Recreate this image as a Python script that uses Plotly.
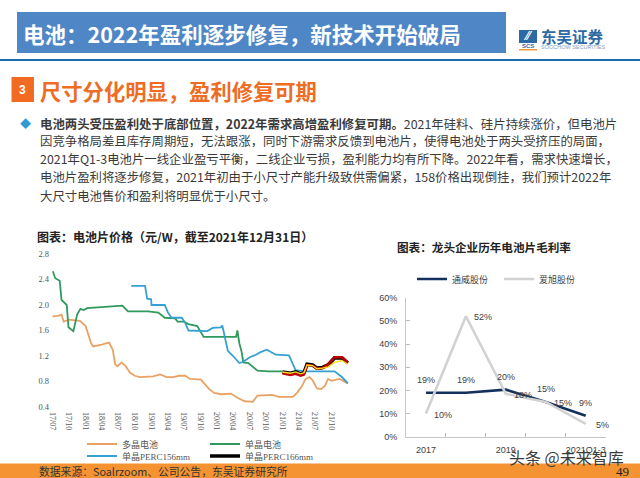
import plotly.graph_objects as go

CJK = "Noto Sans CJK SC"
SERIF = "Liberation Serif, Noto Sans CJK SC"
SANS = "Liberation Sans, Noto Sans CJK SC"

# left chart: cell prices, yuan/W
poly_dates = ["2017-07-01", "2017-08-01", "2017-08-20", "2017-09-01", "2017-10-01", "2017-12-01", "2018-01-01",
              "2018-01-10", "2018-02-01", "2018-02-12", "2018-03-05", "2018-04-01", "2018-05-12", "2018-06-01",
              "2018-06-15", "2018-06-28", "2018-07-20", "2018-08-10", "2018-09-05", "2018-10-01", "2018-11-01",
              "2019-01-12", "2019-02-20", "2019-03-28", "2019-05-05", "2019-06-05", "2019-07-10", "2019-08-05",
              "2019-10-05", "2019-11-01", "2019-11-20", "2019-12-18", "2020-01-25", "2020-03-20", "2020-04-28",
              "2020-06-05", "2020-07-20", "2020-08-15", "2020-11-05", "2020-12-12", "2021-02-28", "2021-03-25",
              "2021-04-18", "2021-05-10", "2021-06-01", "2021-06-18", "2021-07-12", "2021-08-05", "2021-08-25",
              "2021-09-12", "2021-10-01", "2021-11-15", "2021-12-31"]
poly_price = [1.82, 1.83, 1.85, 1.74, 1.77, 1.75, 1.67, 1.6, 1.4, 1.35, 1.36, 1.38, 1.41, 1.3, 1.07, 1.04, 1.1,
              1.05, 0.94, 0.89, 0.87, 0.88, 0.91, 0.87, 0.87, 0.89, 0.89, 0.84, 0.83, 0.75, 0.68, 0.62, 0.6, 0.61,
              0.54, 0.49, 0.48, 0.58, 0.59, 0.56, 0.56, 0.63, 0.72, 0.84, 0.87, 0.82, 0.69, 0.68, 0.73, 0.84, 0.81,
              0.84, 0.77]

mono_dates = ["2017-07-03", "2017-07-16", "2017-08-10", "2017-08-20", "2017-09-18", "2017-09-28", "2017-10-25",
              "2017-11-15", "2017-12-03", "2017-12-21", "2018-01-10", "2018-02-28", "2018-04-20", "2018-06-01",
              "2018-07-25", "2018-08-25", "2018-11-28", "2018-12-15", "2019-02-10", "2019-03-18", "2019-05-15",
              "2019-05-28", "2019-07-01", "2019-07-28", "2019-09-15", "2019-10-20", "2020-04-18", "2020-04-25",
              "2020-05-06", "2020-05-20", "2020-05-28", "2020-06-25", "2020-08-15", "2020-10-15", "2021-01-01"]
mono_price = [2.53, 2.42, 2.38, 2.08, 2.0, 1.65, 1.59, 1.85, 1.94, 1.92, 1.95, 1.96, 1.96, 1.98, 1.99, 1.9, 1.89,
              1.9, 1.88, 1.8, 1.79, 1.74, 1.74, 1.7, 1.67, 1.5, 1.5, 1.6, 1.4, 1.25, 1.1, 1.09, 0.97, 0.96, 0.96]

perc156_dates = ["2018-09-12", "2018-11-28", "2018-12-10", "2019-01-01", "2019-01-03", "2019-03-18", "2019-04-05",
                 "2019-04-25", "2019-06-20", "2019-07-10", "2019-07-28", "2019-11-10", "2019-12-10", "2020-01-25",
                 "2020-02-01", "2020-02-14", "2020-03-03", "2020-04-01", "2020-05-06", "2020-05-28", "2020-07-03",
                 "2020-08-06", "2020-09-01", "2020-10-06", "2020-11-25", "2021-02-06", "2021-03-15", "2021-05-10",
                 "2021-10-18", "2021-11-28", "2021-12-31"]
perc156_price = [2.3, 2.3, 2.1, 2.09, 2.0, 2.0, 1.88, 1.8, 1.8, 1.72, 1.6, 1.59, 1.64, 1.65, 1.68, 1.5, 1.28, 1.2,
                 1.09, 1.11, 1.18, 1.22, 1.26, 1.3, 1.22, 1.21, 0.98, 0.96, 0.96, 0.87, 0.77]

perc166_dates = ["2021-01-01", "2021-01-28", "2021-02-15", "2021-03-15", "2021-04-12", "2021-05-01", "2021-05-18",
                 "2021-06-18", "2021-07-12", "2021-08-12", "2021-09-12", "2021-10-18", "2021-11-28", "2021-12-31"]
perc166_price = [0.95, 0.94, 0.93, 0.95, 0.92, 0.94, 1.07, 1.06, 1.01, 1.02, 1.06, 1.17, 1.17, 1.09]
red_price = [0.93, 0.91, 0.90, 0.92, 0.89, 0.91, 1.06, 1.05, 1.0, 1.01, 1.07, 1.18, 1.18, 1.1]
yellow_price = [0.95, 0.94, 0.93, 0.95, 0.92, 0.94, 1.06, 1.05, 1.0, 1.01, 1.03, 1.1, 1.13, 1.07]

price_ticks = ["2017-07-01", "2017-10-01", "2018-01-01", "2018-04-01", "2018-07-01", "2018-10-01",
               "2019-01-01", "2019-04-01", "2019-07-01", "2019-10-01", "2020-01-01", "2020-04-01",
               "2020-07-01", "2020-10-01", "2021-01-01", "2021-04-01", "2021-07-01", "2021-10-01"]
price_labels = ["17/07", "17/10", "18/01", "18/04", "18/07", "18/10", "19/01", "19/04", "19/07", "19/10",
                "20/01", "20/04", "20/07", "20/10", "21/01", "21/04", "21/07", "21/10"]

# right chart: gross margin, %
years = ["2017", "2018", "2019", "2020", "2021Q1-3"]
year_labels = ["2017", "", "2019", "", "2021Q1-3"]
tongwei = [19, 19, 20.3, 15, 9]
aixu = [10, 52, 18.5, 15, 5.5]
tongwei_labels = ["19%", "19%", "20%", "15%", "9%"]
aixu_labels = ["10%", "52%", "18%", "15%", "5%"]

body_lines = [
    "<b>电池两头受压盈利处于底部位置，2022年需求高增盈利修复可期。</b>2021年硅料、硅片持续涨价，但电池片",
    "因竞争格局差且库存周期短，无法跟涨，同时下游需求反馈到电池片，使得电池处于两头受挤压的局面，",
    "2021年Q1-3电池片一线企业盈亏平衡，二线企业亏损，盈利能力均有所下降。2022年看，需求快速增长，",
    "电池片盈利将逐步修复，2021年初由于小尺寸产能升级致供需偏紧，158价格出现倒挂，我们预计2022年",
    "大尺寸电池售价和盈利将明显优于小尺寸。",
]
body_y = [124, 141, 159, 177, 196]

W, H = 640, 478


def px(x, y, text, size, color="#333333", family=CJK, anchor="left"):
    # annotation placed in page pixels
    return dict(x=x / W, y=1 - y / H, xref="paper", yref="paper", text=text, showarrow=False,
                xshift=-2 if anchor == "left" else 0,
                xanchor=anchor, yanchor="middle", font=dict(size=size, color=color, family=family))


def box(x0, y0, x1, y1, color):
    return dict(type="rect", xref="paper", yref="paper", x0=x0 / W, x1=x1 / W, y0=1 - y0 / H, y1=1 - y1 / H,
                fillcolor=color, line=dict(width=0), layer="below")


fig = go.Figure()
fig.add_trace(go.Scatter(x=poly_dates, y=poly_price, mode="lines", name="多晶电池", legend="legend",
                         line=dict(color="#e9a263", width=1.8)))
fig.add_trace(go.Scatter(x=mono_dates, y=mono_price, mode="lines", name="单晶电池", legend="legend2",
                         line=dict(color="#2f9a5c", width=1.8)))
fig.add_trace(go.Scatter(x=perc156_dates, y=perc156_price, mode="lines", name="单晶PERC156mm", legend="legend3",
                         line=dict(color="#35a0d2", width=1.8)))
fig.add_trace(go.Scatter(x=perc166_dates, y=perc166_price, mode="lines", name="单晶PERC166mm", legend="legend4",
                         line=dict(color="#000000", width=3.6)))
fig.add_trace(go.Scatter(x=perc166_dates, y=red_price, mode="lines", showlegend=False,
                         line=dict(color="#c00000", width=2.4)))
fig.add_trace(go.Scatter(x=perc166_dates, y=yellow_price, mode="lines", showlegend=False,
                         line=dict(color="#ffd91a", width=1.4)))

fig.add_trace(go.Scatter(x=years, y=tongwei, mode="lines", name="通威股份", xaxis="x2", yaxis="y2", legend="legend5",
                         line=dict(color="#14315e", width=2.6)))
fig.add_trace(go.Scatter(x=years, y=aixu, mode="lines", name="爱旭股份", xaxis="x2", yaxis="y2", legend="legend5",
                         line=dict(color="#d2d2d2", width=2.6)))

notes = [
    px(23, 33, "<b>电池：2022年盈利逐步修复，新技术开始破局</b>", 21.5, "#ffffff"),
    px(541, 36, "<b>东吴证券</b>", 15.5, "#2c6aa6"),
    px(541, 47, "SOOCHOW SECURITIES", 5.5, "#8aa3bd", SANS),
    px(528, 46, "<b>SCS</b>", 6, "#2c6aa6", SANS, "center"),
    px(528, 36, "<b>⁄⁄</b>", 12, "#ffffff", SANS, "center"),
    px(22.7, 90, "<b>3</b>", 12, "#ffffff", SANS, "center"),
    px(39.5, 91, "<b>尺寸分化明显，盈利修复可期</b>", 21.3, "#ee6c23"),
    px(25, 123, "◆", 11, "#2e9bd6", CJK, "center"),
    px(37, 236.7, "<b>图表：电池片价格（元/W，截至2021年12月31日）</b>", 12, "#222222"),
    px(396.5, 246.7, "<b>图表：龙头企业历年电池片毛利率</b>", 11.6, "#222222"),
    px(39, 471, "数据来源：Soalrzoom、公司公告，东吴证券研究所", 10.8, "#333333"),
    px(622, 471, "49", 13, "#222222", "Liberation Serif", "center"),
]
for line, y in zip(body_lines, body_y):
    notes.append(px(39.5, y, line, 12.4, "#3a3a3a"))

# category axis: numeric-looking years are placed by index
for i, (value, label) in enumerate(zip(tongwei, tongwei_labels)):
    notes.append(dict(x=i, y=value, xref="x2", yref="y2", text=label, showarrow=False, yshift=13,
                      font=dict(size=9, color="#404040", family=SANS)))
for i, (value, label) in enumerate(zip(aixu, aixu_labels)):
    notes.append(dict(x=i, y=value, xref="x2", yref="y2", text=label, showarrow=False, xshift=17, yshift=-1,
                      font=dict(size=9, color="#404040", family=SANS)))
notes.append(px(509, 457, "头条 @未来智库", 16, "#3c3c3c"))

legend_font = dict(size=9, color="#555555", family=SERIF)
legend_base = dict(xanchor="left", yanchor="middle", bgcolor="rgba(0,0,0,0)", font=legend_font, itemwidth=30)

fig.update_layout(
    width=W,
    height=H,
    margin=dict(l=0, r=0, t=0, b=0, autoexpand=False),
    paper_bgcolor="#ffffff",
    plot_bgcolor="#ffffff",
    xaxis=dict(domain=[50 / W, 350 / W], anchor="y", type="date", range=["2017-06-17", "2022-01-12"],
               tickmode="array", tickvals=price_ticks, ticktext=price_labels, tickangle=90,
               showgrid=False, zeroline=False, showline=False, ticks="", ticklabelstandoff=4,
               tickfont=dict(size=8, color="#555555", family="Liberation Serif")),
    yaxis=dict(domain=[1 - 407 / H, 1 - 254 / H], anchor="x", range=[0.4, 2.8], dtick=0.4, tickformat=".1f",
               showgrid=False, zeroline=False, showline=False, ticks="",
               tickfont=dict(size=8.5, color="#555555", family="Liberation Serif")),
    xaxis2=dict(domain=[406 / W, 605.7 / W], anchor="y2", type="category", range=[-0.5, 4.5],
                tickmode="array", tickvals=years, ticktext=year_labels, tickson="boundaries", ticks="inside",
                ticklen=4, tickcolor="#bdbdbd", showgrid=False, zeroline=False, showline=True, linecolor="#c8c8c8",
                tickangle=0, ticklabelstandoff=4, tickfont=dict(size=9, color="#404040", family=SANS)),
    yaxis2=dict(domain=[1 - 436.7 / H, 1 - 297.7 / H], anchor="x2", range=[0, 60], dtick=10, ticksuffix="%",
                ticks="inside", ticklen=4, tickcolor="#bdbdbd", showgrid=False, zeroline=False, showline=True,
                linecolor="#c8c8c8", ticklabelstandoff=6, tickfont=dict(size=9, color="#404040", family=SANS)),
    legend=dict(x=82 / W, y=1 - 444 / H, **legend_base),
    legend2=dict(x=205 / W, y=1 - 444 / H, **legend_base),
    legend3=dict(x=82 / W, y=1 - 456 / H, **legend_base),
    legend4=dict(x=205 / W, y=1 - 456 / H, **legend_base),
    legend5=dict(x=412 / W, y=1 - 279 / H, orientation="h", xanchor="left", yanchor="middle", entrywidth=42,
                 bgcolor="rgba(0,0,0,0)", font=dict(size=9, color="#404040", family=CJK), itemwidth=30),
    annotations=notes,
    shapes=[
        box(17, 12, 506, 53, "#4f86c6"),
        box(0, 59, 640, 61, "#1a6fae"),
        box(519, 30, 537, 43, "#2c6aa6"),
        box(519, 49, 537, 50.5, "#f29a3e"),
        box(11.5, 77, 34, 102, "#f26b22"),
        box(0, 463.5, 640, 478, "#f59332"),
    ],
)

fig.write_html("out.html", config=dict(displayModeBar=False), post_script="document.body.style.margin='0';")
